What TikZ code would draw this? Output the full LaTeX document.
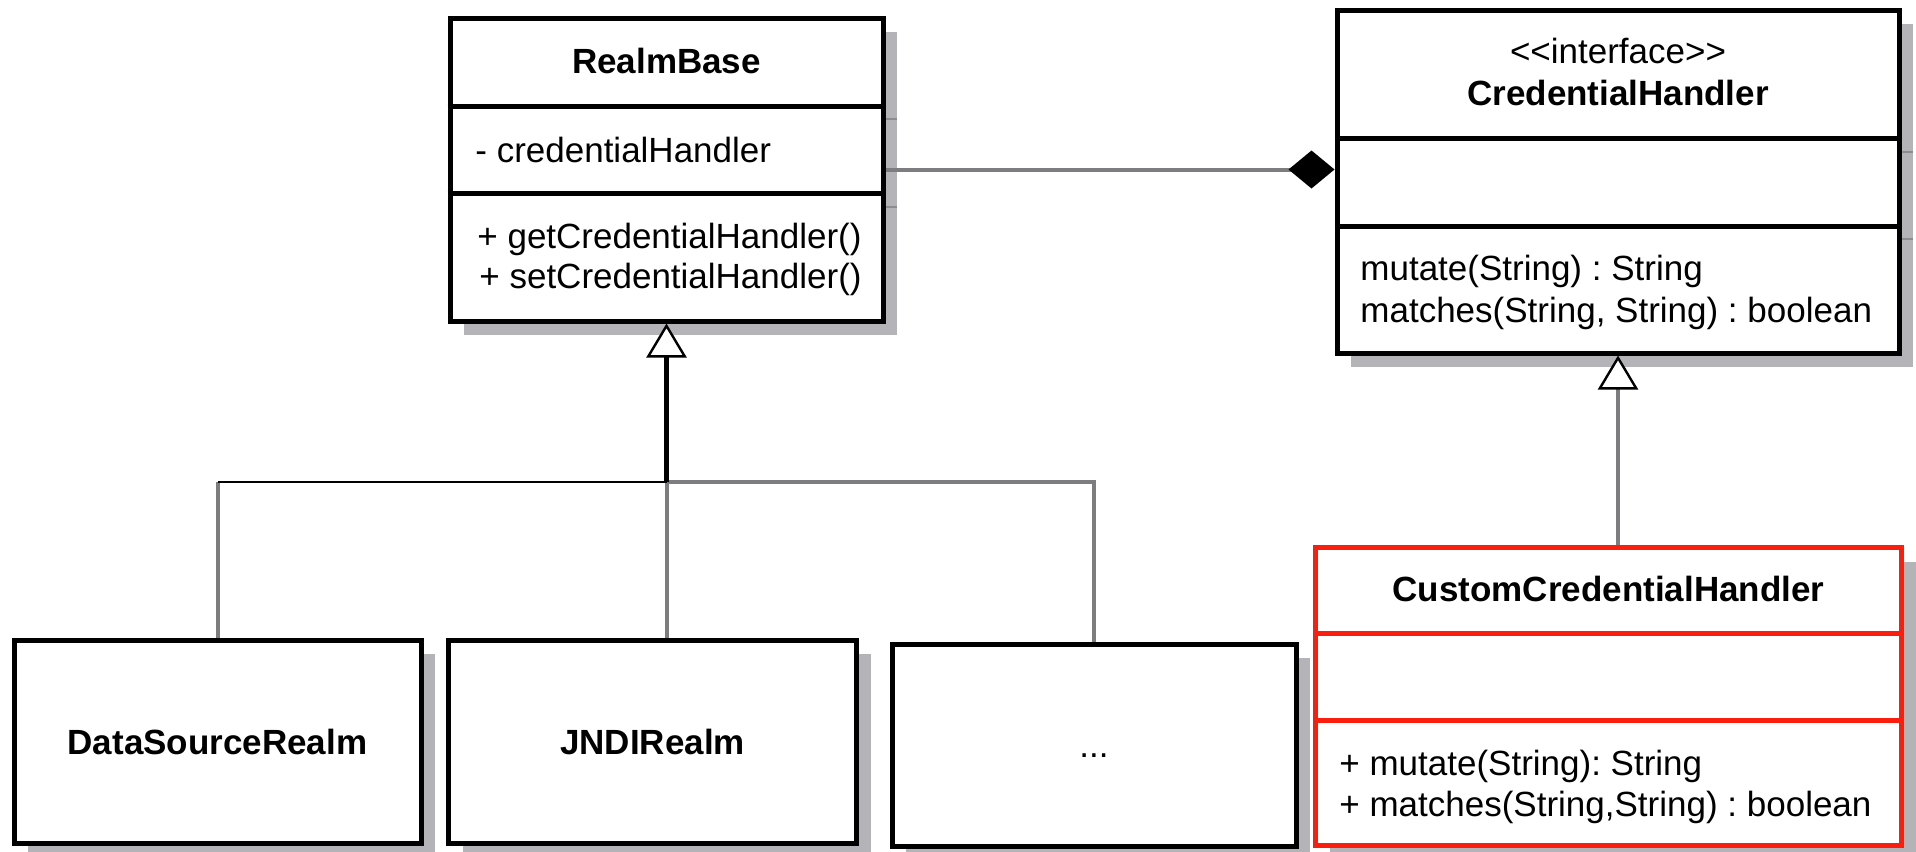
\documentclass[tikz,border=0pt]{standalone}
\usepackage{fontspec}
\setmainfont{Liberation Sans}
\usetikzlibrary{arrows.meta,shadows}
\frenchspacing

\definecolor{linegray}{RGB}{125,125,128}
\definecolor{shadegray}{RGB}{180,180,184}
\definecolor{tickgray}{RGB}{140,140,144}
\definecolor{hired}{RGB}{250,30,15}

\tikzset{
  classbox/.style={draw, line width=2.5pt, fill=white, inner sep=0pt,
    general shadow={fill=shadegray, shadow xshift=7pt, shadow yshift=-7pt}},
  clsname/.style={font=\fontsize{17.5}{21}\selectfont\bfseries, anchor=base, inner sep=0pt},
  member/.style={font=\fontsize{17.5}{21}\selectfont, anchor=base west, inner sep=0pt},
  divider/.style={line width=2.5pt},
  shadowtick/.style={tickgray, line width=0.8pt},
  link/.style={draw=linegray, line width=2pt},
  generalize/.style={-{Triangle[length=17pt, width=20pt, fill=white, color=black, line width=1.2pt]}},
  compose/.style={-{Diamond[length=23pt, width=19pt, fill=black, color=black]}},
}

\begin{document}
\begin{tikzpicture}[x=0.5pt, y=-0.5pt]
  \useasboundingbox (0,0) rectangle (1916,851);

  % RealmBase
  \node[classbox, minimum width=216.5pt, minimum height=151.5pt] (rb) at (666.5,169.5) {};
  \draw[divider] (rb.west |- 0,106) -- (rb.east |- 0,106);
  \draw[divider] (rb.west |- 0,193) -- (rb.east |- 0,193);
  \draw[shadowtick] (886,119) -- (897,119);
  \draw[shadowtick] (886,207) -- (897,207);
  \node[clsname] (rb-title) at (666.5,73) {RealmBase};
  \node[member] (rb-attr) at (475,162) {- credentialHandler};
  \node[member] (rb-get) at (477,248) {+ getCredentialHandler()};
  \node[member] (rb-set) at (479,288) {+ setCredentialHandler()};

  % CredentialHandler
  \node[classbox, minimum width=281pt, minimum height=171.5pt] (ch) at (1618,181.5) {};
  \draw[divider] (ch.west |- 0,138) -- (ch.east |- 0,138);
  \draw[divider] (ch.west |- 0,226) -- (ch.east |- 0,226);
  \draw[shadowtick] (1902,152) -- (1913,152);
  \draw[shadowtick] (1902,239) -- (1913,239);
  \node[clsname, font=\fontsize{17.5}{21}\selectfont] (ch-stereo) at (1618,63) {<{}<interface>{}>};
  \node[clsname] (ch-title) at (1618,105) {CredentialHandler};
  \node[member] (ch-mutate) at (1360,280) {mutate(String) : String};
  \node[member] (ch-matches) at (1360,322) {matches(String, String) : boolean};

  % subclasses
  \node[classbox, minimum width=203.5pt, minimum height=101.5pt, font=\fontsize{17.5}{21}\selectfont\bfseries] (ds) at (217.5,741.5) {DataSourceRealm};
  \node[classbox, minimum width=204pt, minimum height=101.5pt, font=\fontsize{17.5}{21}\selectfont\bfseries] (jndi) at (652.5,741.5) {JNDIRealm};
  \node[classbox, minimum width=202pt, minimum height=101pt, font=\fontsize{17.5}{21}\selectfont] (more) at (1094,745) {\vphantom{D}...};

  % CustomCredentialHandler
  \node[classbox, draw=hired, minimum width=293pt, minimum height=149pt] (cch) at (1608.5,696.5) {};
  \draw[divider, hired] (cch.west |- 0,633) -- (cch.east |- 0,633);
  \draw[divider, hired] (cch.west |- 0,720) -- (cch.east |- 0,720);
  \node[clsname] (cch-title) at (1608.5,601) {CustomCredentialHandler};
  \node[member] (cch-mutate) at (1339,775) {+ mutate(String): String};
  \node[member] (cch-matches) at (1339,816) {+ matches(String,String) : boolean};

  % relations
  \coordinate (fork) at (666.5,482);
  \draw[link] (fork -| ds.north) -- (ds.north);
  \draw[link] (fork) -- (fork |- jndi.north);
  \draw[link] (fork) -- (fork -| more.north) -- (more.north);
  \draw[line width=1.4pt] (fork) -- (fork -| ds.north);
  \draw[line width=2.5pt, generalize] (fork) -- (rb.south);
  \draw[link, generalize] (cch.north -| ch.south) -- (ch.south);
  \draw[link, compose] (rb.east) -- (rb.east -| ch.west);
\end{tikzpicture}
\end{document}
